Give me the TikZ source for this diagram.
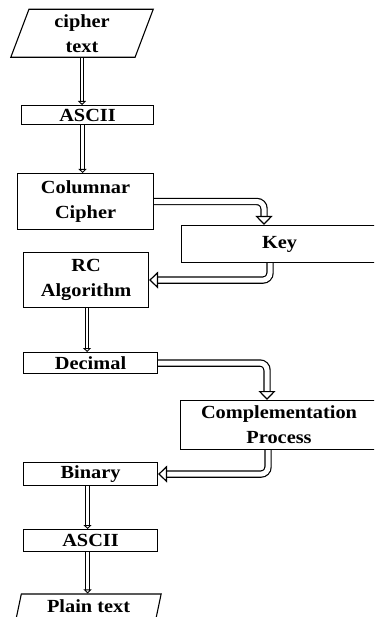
\documentclass[tikz,border=0pt]{standalone}
\usepackage{fontspec}
\setmainfont{Liberation Serif}[FakeStretch=1.1]
\usepackage{tikz}
\usetikzlibrary{positioning,arrows.meta,shapes.geometric}

\begin{document}
\begin{tikzpicture}[x=1pt,y=-1pt,
      every node/.style={align=center,font=\fontsize{18.5}{25}\selectfont\bfseries},
      box/.style={draw, line width=1.1pt, inner sep=0pt, anchor=north west},
      io/.style={draw, line width=1.1pt, inner sep=0pt, trapezium,
        trapezium left angle=76, trapezium right angle=104, trapezium stretches=true},
      dblarrow/.style={double, double distance=2.4pt, line width=0.9pt,
        -{Triangle[open,length=4pt,width=8pt]}},
      fatarrow/.style={double, double distance=5pt, line width=1.2pt, rounded corners=7pt,
        -{Triangle[open,length=9pt,width=17pt]}}]
    \useasboundingbox (0,0) rectangle (374,617);
    \clip (0,0) rectangle (374,617);
    \node[io,minimum width=143pt,minimum height=48pt] (cipher) at (82,33.3) {cipher\\text};
    \node[box,minimum width=132pt,minimum height=19pt] (ascii1) at (21,105) {ASCII};
    \node[box,minimum width=136pt,minimum height=56pt] (colum) at (17,173) {Columnar\\Cipher};
    \node[box,minimum width=196pt,minimum height=37pt] (key) at (181,225) {Key};
    \node[box,minimum width=125pt,minimum height=55pt] (rc) at (23,252) {RC\\Algorithm};
    \node[box,minimum width=134pt,minimum height=21pt] (dec) at (23,352) {Decimal};
    \node[box,minimum width=197pt,minimum height=49pt] (comp) at (180,400) {Complementation\\Process};
    \node[box,minimum width=134pt,minimum height=23pt] (bin) at (23,462) {Binary};
    \node[box,minimum width=134pt,minimum height=22pt] (ascii2) at (23,529) {ASCII};
    \node[io,minimum width=146pt,minimum height=25pt] (plain) at (88.6,606.5) {Plain text};

    \draw[dblarrow] (cipher.south) -- (cipher.south |- ascii1.north);
    \draw[dblarrow] ([xshift=-5pt]ascii1.south) -- ([xshift=-5pt]ascii1.south |- colum.north);
    \draw[fatarrow] (colum.east) -| ([xshift=83pt]key.north west);
    \draw[fatarrow] ([xshift=89pt]key.south west) |- (rc.east);
    \draw[dblarrow] ([xshift=1pt]rc.south) -- ([xshift=1pt]rc.south |- dec.north);
    \draw[fatarrow] (dec.east) -| ([xshift=87pt]comp.north west);
    \draw[fatarrow] ([xshift=88pt]comp.south west) |- (bin.east);
    \draw[dblarrow] ([xshift=-3pt]bin.south) -- ([xshift=-3pt]bin.south |- ascii2.north);
    \draw[dblarrow] ([xshift=-3pt]ascii2.south) -- ([xshift=-3pt]ascii2.south |- plain.north);
  \end{tikzpicture}
\end{document}
